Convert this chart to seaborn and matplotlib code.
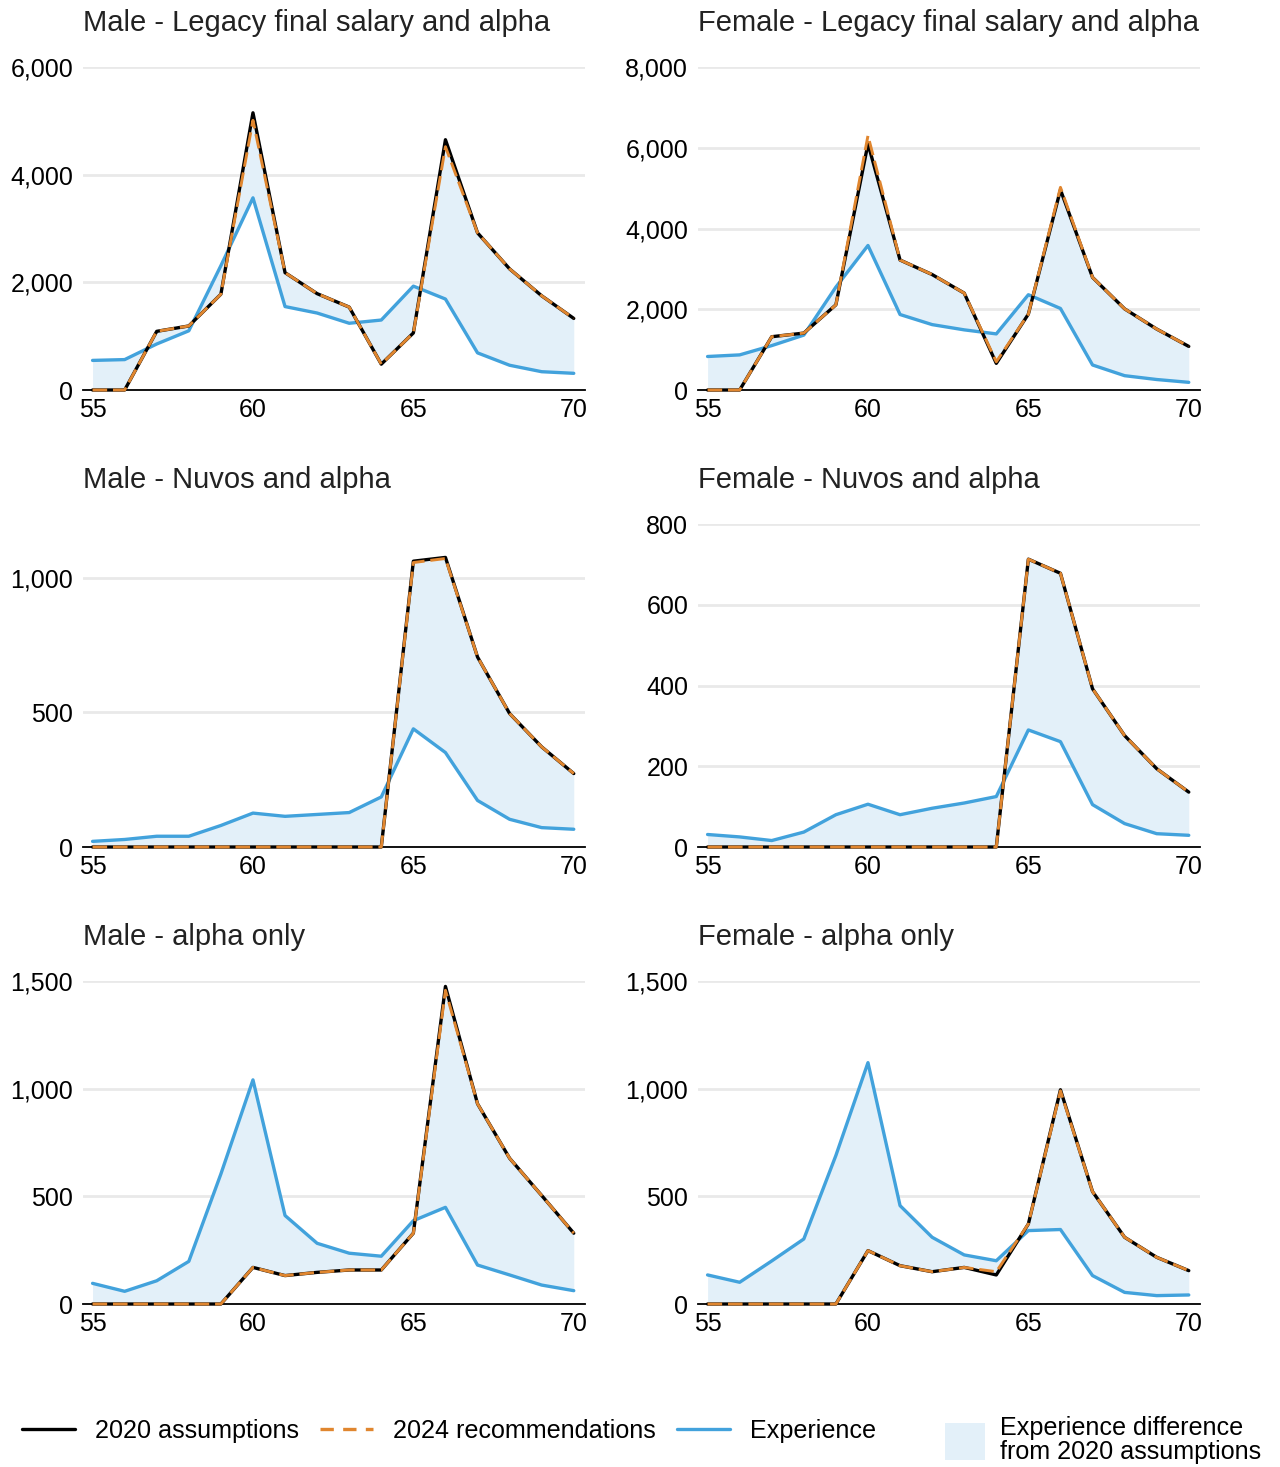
import matplotlib
matplotlib.use("Agg")
import matplotlib.pyplot as plt
from matplotlib.lines import Line2D
from matplotlib.patches import Patch
from matplotlib.ticker import FuncFormatter
import seaborn as sns

ages = list(range(55, 71))

# Male - Legacy final salary and alpha
male_legacy_2020 = [0, 0, 1090, 1190, 1780, 5150, 2180, 1790, 1540, 480, 1060, 4650, 2920, 2250, 1750, 1330]
male_legacy_2024 = [0, 0, 1090, 1190, 1780, 5010, 2180, 1790, 1540, 480, 1060, 4520, 2920, 2250, 1750, 1330]
male_legacy_exp = [550, 565, 855, 1100, 2310, 3570, 1550, 1430, 1240, 1300, 1930, 1690, 690, 460, 340, 310]

# Female - Legacy final salary and alpha
female_legacy_2020 = [0, 0, 1320, 1410, 2110, 6100, 3220, 2860, 2400, 660, 1880, 4960, 2790, 2010, 1510, 1080]
female_legacy_2024 = [0, 0, 1320, 1410, 2110, 6300, 3220, 2860, 2400, 700, 1880, 5020, 2790, 2010, 1510, 1080]
female_legacy_exp = [830, 870, 1100, 1360, 2550, 3580, 1870, 1620, 1490, 1390, 2360, 2020, 620, 355, 260, 190]

# Male - Nuvos and alpha
male_nuvos_2020 = [0, 0, 0, 0, 0, 0, 0, 0, 0, 0, 1062, 1076, 706, 496, 372, 273]
male_nuvos_2024 = [0, 0, 0, 0, 0, 0, 0, 0, 0, 0, 1057, 1072, 706, 496, 372, 273]
male_nuvos_exp = [21, 28, 40, 40, 80, 126, 114, 121, 128, 186, 439, 351, 173, 103, 72, 66]

# Female - Nuvos and alpha
female_nuvos_2020 = [0, 0, 0, 0, 0, 0, 0, 0, 0, 0, 713, 678, 392, 276, 194, 136]
female_nuvos_2024 = [0, 0, 0, 0, 0, 0, 0, 0, 0, 0, 713, 678, 392, 276, 194, 136]
female_nuvos_exp = [31, 25, 16, 37, 80, 106, 80, 96, 109, 125, 290, 261, 105, 58, 33, 29]

# Male - alpha only
male_alpha_2020 = [0, 0, 0, 0, 0, 170, 132, 147, 158, 158, 329, 1475, 930, 677, 504, 329]
male_alpha_2024 = [0, 0, 0, 0, 0, 170, 132, 147, 158, 158, 329, 1457, 930, 677, 504, 329]
male_alpha_exp = [96, 59, 108, 198, 604, 1041, 411, 282, 236, 222, 387, 449, 181, 135, 88, 62]

# Female - alpha only
female_alpha_2020 = [0, 0, 0, 0, 0, 248, 178, 150, 170, 135, 372, 995, 522, 310, 217, 155]
female_alpha_2024 = [0, 0, 0, 0, 0, 248, 178, 150, 170, 150, 372, 990, 522, 310, 217, 155]
female_alpha_exp = [135, 101, 200, 302, 690, 1121, 457, 310, 228, 201, 341, 346, 132, 54, 39, 42]

titles = ["Male - Legacy final salary and alpha", "Female - Legacy final salary and alpha",
          "Male - Nuvos and alpha", "Female - Nuvos and alpha",
          "Male - alpha only", "Female - alpha only"]
ylims = [6000, 8000, 1200, 800, 1500, 1500]
ysteps = [2000, 2000, 500, 200, 500, 500]

series = [
    (male_legacy_2020, male_legacy_2024, male_legacy_exp),
    (female_legacy_2020, female_legacy_2024, female_legacy_exp),
    (male_nuvos_2020, male_nuvos_2024, male_nuvos_exp),
    (female_nuvos_2020, female_nuvos_2024, female_nuvos_exp),
    (male_alpha_2020, male_alpha_2024, male_alpha_exp),
    (female_alpha_2020, female_alpha_2024, female_alpha_exp),
]

black = "#000000"
orange = "#E0862F"
blue = "#42A2DC"
fill = "#E3F0F9"
dash = (0, (5.0, 2.0))

sns.set_style("white")
plt.rcParams['font.family'] = ['Liberation Sans', 'DejaVu Sans']

fig, axes = plt.subplots(3, 2, figsize=(12.8, 14.67), dpi=100)
plt.subplots_adjust(left=0.0648, right=0.9375, bottom=0.1111, top=0.9543, wspace=0.225, hspace=0.415)

for i, ax in enumerate(axes.flat):
    a2020, a2024, exp = series[i]
    ax.fill_between(ages, exp, a2020, color=fill, linewidth=0, zorder=1)
    sns.lineplot(x=ages, y=exp, ax=ax, color=blue, linewidth=2.4, zorder=3, clip_on=False)
    sns.lineplot(x=ages, y=a2020, ax=ax, color=black, linewidth=2.4, zorder=4, clip_on=False)
    sns.lineplot(x=ages, y=a2024, ax=ax, color=orange, linewidth=2.1, zorder=5, clip_on=False,
                 linestyle=dash)

    ax.set_xlim(54.7, 70.35)
    ax.set_ylim(0, ylims[i])
    ax.set_xticks([55, 60, 65, 70])
    ax.set_yticks(list(range(0, ylims[i] + 1, ysteps[i])))
    ax.yaxis.set_major_formatter(FuncFormatter(lambda v, p: f"{v:,.0f}"))
    ax.grid(axis='y', color='#e9e9e9', linewidth=2.0)
    ax.set_axisbelow(True)
    for s in ['left', 'right', 'top']:
        ax.spines[s].set_visible(False)
    ax.spines['bottom'].set_color('black')
    ax.spines['bottom'].set_linewidth(1.3)
    ax.spines['bottom'].set_zorder(2)
    ax.tick_params(axis='both', length=0, labelsize=18, colors='black')
    ax.tick_params(axis='y', pad=7)
    ax.tick_params(axis='x', pad=6)
    ax.set_xlabel('')
    ax.set_ylabel('')
    ax.set_title(titles[i], loc='left', fontsize=21, color='#222222', pad=26)

line_handles = [
    Line2D([0], [0], color=black, linewidth=2.4),
    Line2D([0], [0], color=orange, linewidth=2.4, linestyle=(0, (4.0, 2.8))),
    Line2D([0], [0], color=blue, linewidth=2.4),
]
leg1 = fig.legend(line_handles, ["2020 assumptions", "2024 recommendations", "Experience"],
                  loc='center left', bbox_to_anchor=(0.0172, 0.0245), ncol=3, frameon=False,
                  fontsize=18.1, handlelength=2.1, handletextpad=0.8, columnspacing=0.85,
                  borderpad=0, borderaxespad=0, labelcolor='black')

leg2 = fig.legend([Patch(facecolor=fill, edgecolor='none')],
                  ["Experience difference\nfrom 2020 assumptions"],
                  loc='center left', bbox_to_anchor=(0.738, 0.0184), frameon=False,
                  fontsize=18.1, handlelength=1.6, handleheight=1.9, handletextpad=0.6,
                  borderpad=0, borderaxespad=0, labelcolor='black')
for t in leg2.get_texts():
    t.set_linespacing(1.0)

fig.savefig("out.png", dpi=100)
